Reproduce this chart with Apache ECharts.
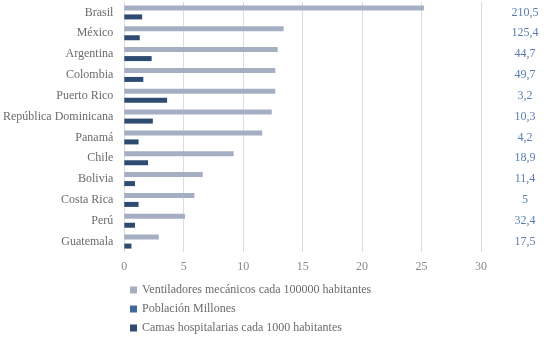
<!DOCTYPE html>
<html>
<head>
<meta charset="utf-8">
<script src="https://cdn.jsdelivr.net/npm/echarts@6/dist/echarts.min.js"></script>
<style>
  html, body { margin: 0; padding: 0; background: #fff; }
  #chart { width: 558px; height: 339px; }
</style>
</head>
<body>
<div id="chart"></div>
<script>
// Datos
const countries = ['Brasil', 'México', 'Argentina', 'Colombia', 'Puerto Rico', 'República Dominicana',
    'Panamá', 'Chile', 'Bolivia', 'Costa Rica', 'Perú', 'Guatemala'];
const ventiladores = [25.2, 13.4, 12.9, 12.7, 12.7, 12.4, 11.6, 9.2, 6.6, 5.9, 5.1, 2.9];
const camas = [1.5, 1.3, 2.3, 1.6, 3.6, 2.4, 1.2, 2.0, 0.9, 1.2, 0.9, 0.6];
const poblacion = ['210,5', '125,4', '44,7', '49,7', '3,2', '10,3', '4,2', '18,9', '11,4', '5', '32,4', '17,5'];
const xTicks = { min: 0, max: 30, interval: 5 };

const font = 'Liberation Serif, Times New Roman, serif';
const chart = echarts.init(document.getElementById('chart'));

chart.setOption({
    animation: false,
    textStyle: { fontFamily: font },
    grid: { left: 121, right: 77, top: 2, bottom: 87 },
    legend: {
        orient: 'vertical',
        left: 125,
        top: 279,
        height: 70,
        itemWidth: 7,
        itemHeight: 7,
        itemGap: 7,
        icon: 'rect',
        textStyle: { fontFamily: font, fontSize: 12, color: '#6b6b6b' },
        data: ['Ventiladores mecánicos cada 100000 habitantes', 'Población Millones', 'Camas hospitalarias cada 1000 habitantes']
    },
    xAxis: {
        type: 'value',
        min: xTicks.min,
        max: xTicks.max,
        interval: xTicks.interval,
        axisLine: { show: false },
        axisTick: { show: false },
        axisLabel: { color: '#8a8a8a', fontSize: 12, margin: 9 },
        splitLine: { lineStyle: { color: '#dcdcdc', width: 1 } }
    },
    yAxis: [{
        type: 'category',
        data: countries,
        inverse: true,
        axisLine: { show: false },
        axisTick: { show: false },
        axisLabel: { color: '#6b6b6b', fontSize: 12, margin: 11 }
    }, {
        type: 'category',
        data: poblacion,
        inverse: true,
        position: 'right',
        axisLine: { show: false },
        axisTick: { show: false },
        axisLabel: { color: '#5b7db0', fontSize: 12, margin: 44, align: 'center' }
    }],
    series: [{
        name: 'Ventiladores mecánicos cada 100000 habitantes',
        type: 'bar',
        data: ventiladores,
        barWidth: 5,
        barGap: '80%',
        itemStyle: { color: '#a5aec2' }
    }, {
        name: 'Población Millones',
        type: 'bar',
        yAxisIndex: 1,
        data: [],
        itemStyle: { color: '#3f6aa0' }
    }, {
        name: 'Camas hospitalarias cada 1000 habitantes',
        type: 'bar',
        data: camas,
        barWidth: 5,
        barGap: '80%',
        itemStyle: { color: '#2e4b72' }
    }]
});
</script>
</body>
</html>
